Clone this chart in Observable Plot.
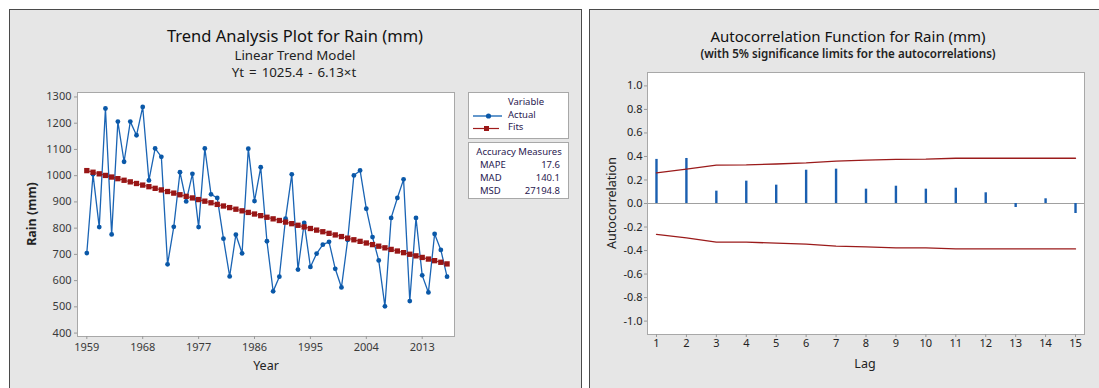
<!DOCTYPE html>
<html><head><meta charset="utf-8">
<script src="https://cdn.jsdelivr.net/npm/d3@7"></script>
<script src="https://cdn.jsdelivr.net/npm/@observablehq/plot@0.6"></script>
<style>
html,body{margin:0;padding:0;background:#fff}
body{width:1099px;height:388px;overflow:hidden;position:relative;font-family:"Noto Sans",sans-serif}
.panel{position:absolute;background:#e6e6e6;border:1px solid #4a4a4a;box-sizing:border-box}
.abs{position:absolute;white-space:nowrap;line-height:1.1}
.c{transform:translate(-50%,-50%)}
.ttl{color:#111}
.sub{font-size:13.3px;color:#222}
.box{position:absolute;background:#fff;border:1px solid #a8a8a8;box-sizing:border-box}
.lg{font-size:9.5px;color:#2a2050}
</style></head><body>
<div class="panel" style="left:9px;top:9px;width:573px;height:390px"></div>
<div class="panel" style="left:589px;top:9px;width:520px;height:390px"></div>

<div class="abs c ttl" style="left:295px;top:36px;font-size:16.5px">Trend Analysis Plot for Rain (mm)</div>
<div class="abs c sub" style="left:295px;top:55px">Linear Trend Model</div>
<div class="abs c sub" style="left:294px;top:72px;word-spacing:1.5px">Yt = 1025.4 - 6.13×t</div>
<div class="abs c" style="left:266px;top:366px;font-size:12.5px;color:#222">Year</div>
<div class="abs c" style="left:32px;top:214px;font-size:12.5px;font-weight:bold;color:#222;transform:translate(-50%,-50%) rotate(-90deg)">Rain (mm)</div>

<div class="abs c ttl" style="left:848px;top:36px;font-size:15px">Autocorrelation Function for Rain (mm)</div>
<div class="abs c" style="left:848px;top:54px;font-size:11.6px;font-weight:600;color:#222">(with 5% significance limits for the autocorrelations)</div>
<div class="abs c" style="left:865px;top:364px;font-size:12.5px;color:#222">Lag</div>
<div class="abs c" style="left:612px;top:203px;font-size:12.5px;color:#222;transform:translate(-50%,-50%) rotate(-90deg)">Autocorrelation</div>

<div id="left" class="abs" style="left:9px;top:9px"></div>
<div id="right" class="abs" style="left:590px;top:9px"></div>

<div class="box" style="left:468px;top:92px;width:101px;height:47px"></div>
<div class="abs c lg" style="left:526px;top:102px">Variable</div>
<svg class="abs" style="left:468px;top:108px" width="40" height="26">
  <line x1="5" x2="34" y1="8" y2="8" stroke="#1060b0" stroke-width="1.3"/>
  <circle cx="20.5" cy="8" r="2.6" fill="#0a58a8"/>
  <line x1="5" x2="31" y1="20.5" y2="20.5" stroke="#a01c1c" stroke-width="1.2"/>
  <rect x="16" y="18" width="5" height="5" fill="#9a1717"/>
</svg>
<div class="abs lg" style="left:508px;top:110px">Actual</div>
<div class="abs lg" style="left:508px;top:122px">Fits</div>

<div class="box" style="left:468px;top:142px;width:101px;height:57px"></div>
<div class="abs c lg" style="left:519px;top:152px">Accuracy Measures</div>
<div class="abs lg" style="left:480px;top:160px">MAPE</div>
<div class="abs lg" style="left:480px;top:173px">MAD</div>
<div class="abs lg" style="left:480px;top:186px">MSD</div>
<div class="abs lg" style="right:539px;top:160px">17.6</div>
<div class="abs lg" style="right:539px;top:173px">140.1</div>
<div class="abs lg" style="right:539px;top:186px">27194.8</div>

<script>
// ---- Trend analysis data ----
const years = d3.range(1959, 2018);
const rain = [705, 1005, 804, 1256, 776, 1206, 1053, 1206, 1154, 1262,
  982, 1104, 1072, 662, 805, 1013, 902, 1007, 804, 1104,
  929, 915, 760, 616, 775, 704, 1103, 903, 1032, 750,
  559, 615, 836, 1005, 642, 820, 652, 703, 737, 748,
  645, 574, 755, 1001, 1020, 874, 766, 677, 502, 839,
  915, 986, 522, 839, 620, 555, 778, 717, 615];
const fits = [1019.3, 1013.1, 1007.0, 1000.9, 994.8, 988.6, 982.5, 976.4, 970.2, 964.1,
  958.0, 951.8, 945.7, 939.6, 933.5, 927.3, 921.2, 915.1, 908.9, 902.8,
  896.7, 890.5, 884.4, 878.3, 872.2, 866.0, 859.9, 853.8, 847.6, 841.5,
  835.4, 829.2, 823.1, 817.0, 810.9, 804.7, 798.6, 792.5, 786.3, 780.2,
  774.1, 767.9, 761.8, 755.7, 749.6, 743.4, 737.3, 731.2, 725.0, 718.9,
  712.8, 706.6, 700.5, 694.4, 688.3, 682.1, 676.0, 669.9, 663.7];
const yearTicks = [1959, 1968, 1977, 1986, 1995, 2004, 2013];
const rainTicks = [400, 500, 600, 700, 800, 900, 1000, 1100, 1200, 1300];

// ---- ACF data ----
const lags = d3.range(1, 16);
const acf = [0.375, 0.383, 0.105, 0.19, 0.156, 0.283, 0.292, 0.122, 0.147, 0.122, 0.130, 0.091, -0.034, 0.040, -0.085];
const upper = [0.261, 0.292, 0.327, 0.328, 0.336, 0.345, 0.361, 0.368, 0.376, 0.377, 0.385, 0.385, 0.385, 0.385, 0.385];
const lower = [-0.262, -0.293, -0.328, -0.329, -0.337, -0.346, -0.362, -0.369, -0.377, -0.378, -0.386, -0.386, -0.386, -0.386, -0.386];
const acfTicks = [-1, -0.8, -0.6, -0.4, -0.2, 0, 0.2, 0.4, 0.6, 0.8, 1];

const actualData = years.map((y, i) => ({year: y, value: rain[i]}));
const fitData = years.map((y, i) => ({year: y, value: fits[i]}));

const leftPlot = Plot.plot({
  width: 573, height: 379,
  marginLeft: 68, marginRight: 128, marginTop: 83, marginBottom: 52,
  style: {background: "transparent", fontFamily: "Noto Sans, sans-serif", fontSize: "11px", color: "#3a3a3a"},
  x: {domain: [1957.5, 2018.2]},
  y: {domain: [387, 1317]},
  marks: [
    Plot.frame({fill: "white", stroke: "#a8a8a8"}),
    Plot.axisX({ticks: yearTicks, tickFormat: d => String(d), tickSize: 3, tickPadding: 4, label: null, stroke: "#999"}),
    Plot.axisY({ticks: rainTicks, tickFormat: d => String(d), tickSize: 3, tickPadding: 3, label: null, stroke: "#999"}),
    Plot.line(actualData, {x: "year", y: "value", stroke: "#1a64b4", strokeWidth: 1.3}),
    Plot.dot(actualData, {x: "year", y: "value", r: 2.4, fill: "#0a58a8"}),
    Plot.line(fitData, {x: "year", y: "value", stroke: "#a01c1c", strokeWidth: 1}),
    Plot.dot(fitData, {x: "year", y: "value", symbol: "square", r: 3.0, fill: "#981616"})
  ]
});
document.getElementById("left").appendChild(leftPlot);

const acfData = lags.map((l, i) => ({lag: l, acf: acf[i], upper: upper[i], lower: lower[i]}));

const rightPlot = Plot.plot({
  width: 509, height: 379,
  marginLeft: 57, marginRight: 15, marginTop: 63, marginBottom: 54,
  style: {background: "transparent", fontFamily: "Noto Sans, sans-serif", fontSize: "11px", color: "#222"},
  x: {domain: [0.7, 15.3]},
  y: {domain: [-1.114, 1.114]},
  marks: [
    Plot.frame({fill: "white", stroke: "#a8a8a8"}),
    Plot.axisX({ticks: lags, tickFormat: d => String(d), tickSize: 3, tickPadding: 2, label: null, stroke: "#999"}),
    Plot.axisY({ticks: acfTicks, tickFormat: d => d.toFixed(1), tickSize: 3, tickPadding: 2, label: null, stroke: "#999"}),
    Plot.ruleY([0], {stroke: "#a0a0a0", strokeWidth: 1}),
    Plot.ruleX(acfData, {x: "lag", y1: 0, y2: "acf", stroke: "#1a5fb0", strokeWidth: 2.4}),
    Plot.line(acfData, {x: "lag", y: "upper", stroke: "#9b1b1b", strokeWidth: 1.3}),
    Plot.line(acfData, {x: "lag", y: "lower", stroke: "#9b1b1b", strokeWidth: 1.3})
  ]
});
document.getElementById("right").appendChild(rightPlot);
</script>
</body></html>
